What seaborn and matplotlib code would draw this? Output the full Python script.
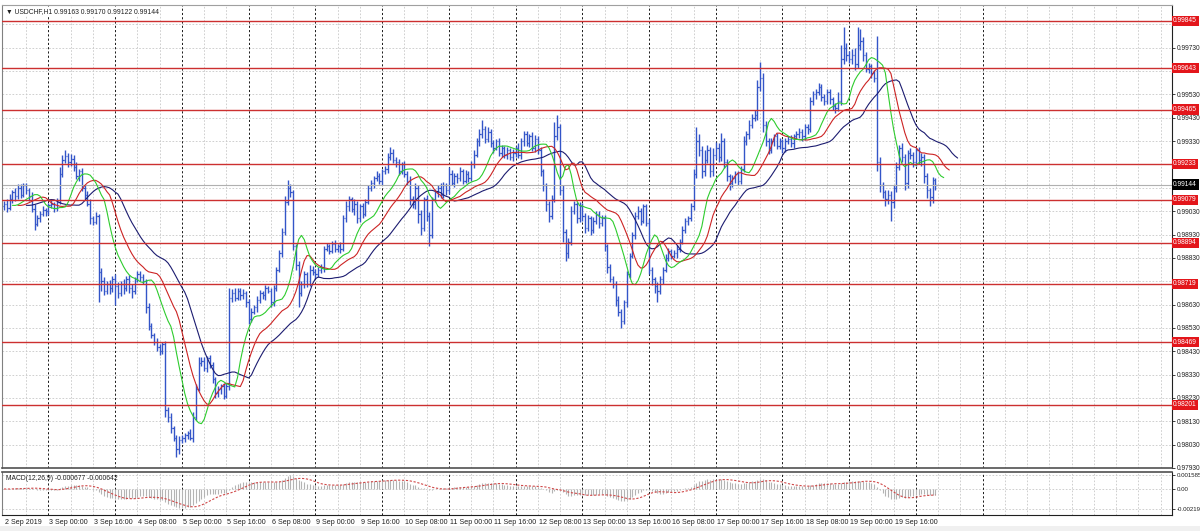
import numpy as np
import pandas as pd
import matplotlib
matplotlib.use("Agg")
import matplotlib.pyplot as plt
import matplotlib.transforms as mtransforms
from matplotlib.patches import Rectangle
import seaborn as sns

# ------------------------------------------------------------------ data
symbol_text = "\u25bc USDCHF,H1 0.99163 0.99170 0.99122 0.99144"
macd_text = "MACD(12,26,9) -0.000677 -0.000642"

price_base = 0.97          # closes are stored as (price - 0.97) * 1e5
price_unit = 1e-5
first_open = 2050

close_pts = [
    2060, 2045, 2080, 2110, 2095, 2130, 2100, 2140, 2120, 2095, 2040, 1975, 2000, 2020, 2035, 2030, 2055, 2060, 2045, 2070, 2190, 2250, 2265, 2240,
    2255, 2220, 2180, 2200, 2130, 2100, 2060, 2000, 1985, 2010, 1770, 1730, 1690, 1720, 1700, 1740, 1710, 1680, 1720, 1700, 1740, 1700, 1690, 1740,
    1760, 1750, 1730, 1620, 1540, 1500, 1470, 1450, 1430, 1460, 1180, 1150, 1100, 1060, 1010, 1050, 1060, 1070, 1080, 1060, 1150, 1270, 1380, 1390,
    1360, 1400, 1370, 1310, 1250, 1270, 1280, 1240, 1280, 1660, 1680, 1660, 1690, 1670, 1680, 1640, 1570, 1600, 1620, 1650, 1680, 1670, 1700, 1690,
    1640, 1700, 1780, 1850, 1940, 2070, 2130, 2110, 1880, 1800, 1680, 1720, 1760, 1720, 1780, 1770, 1760, 1780, 1790, 1870, 1880, 1860, 1890, 1870,
    1880, 1870, 2000, 2050, 2080, 2040, 2060, 2000, 2050, 2020, 2070, 2130, 2150, 2170, 2180, 2160, 2200, 2210, 2260, 2280, 2250, 2240, 2200, 2230,
    2190, 2160, 2080, 2060, 2130, 2020, 1960, 2080, 2010, 1930, 2080, 2110, 2130, 2100, 2140, 2120, 2190, 2150, 2180, 2170, 2200, 2160, 2190, 2170,
    2230, 2270, 2330, 2360, 2380, 2340, 2370, 2320, 2300, 2330, 2280, 2300, 2270, 2290, 2260, 2280, 2300, 2270, 2330, 2360, 2320, 2350, 2300, 2340,
    2290, 2200, 2140, 2060, 2010, 2080, 2350, 2390, 2120, 1940, 1850, 1900, 2030, 2060, 2000, 2050, 2010, 1960, 2000, 1950, 1990, 2020, 1980, 2000,
    1880, 1790, 1740, 1720, 1650, 1600, 1560, 1640, 1760, 1840, 1930, 2010, 2030, 1990, 2050, 1980, 1780, 1740, 1710, 1690, 1740, 1780, 1830, 1860,
    1840, 1850, 1870, 1900, 1950, 1990, 2000, 2050, 2190, 2330, 2290, 2200, 2250, 2290, 2200, 2270, 2300, 2260, 2330, 2240, 2180, 2150, 2170, 2190,
    2160, 2210, 2330, 2360, 2400, 2430, 2440, 2560, 2600, 2400, 2330, 2290, 2330, 2350, 2310, 2330, 2300, 2330, 2340, 2320, 2350, 2360, 2370, 2350,
    2390, 2380, 2500, 2530, 2540, 2560, 2520, 2500, 2540, 2510, 2480, 2470, 2500, 2680, 2730, 2700, 2680, 2700, 2660, 2740, 2760, 2700, 2640, 2650,
    2620, 2600, 2240, 2140, 2110, 2080, 2100, 2070, 2130, 2220, 2300, 2260, 2150, 2280, 2270, 2240, 2290, 2250, 2260, 2180, 2120, 2090, 2163, 2144,
]

wick_hi = [
    15, 20, 25, 10, 20, 15, 18, 12, 10, 8, 15, 20, 12, 10, 15, 10, 12, 18, 10, 15, 30, 20, 25, 15,
    20, 15, 20, 12, 15, 10, 15, 20, 10, 15, 10, 15, 20, 10, 15, 12, 20, 15, 10, 18, 12, 15, 20, 10,
    15, 12, 10, 10, 15, 12, 10, 15, 12, 10, 12, 10, 15, 10, 12, 15, 10, 12, 10, 15, 20, 20, 25, 15,
    15, 10, 12, 15, 10, 12, 10, 15, 12, 40, 15, 20, 10, 12, 15, 10, 12, 15, 10, 15, 12, 10, 15, 10,
    12, 15, 10, 15, 20, 25, 35, 15, 12, 10, 15, 12, 15, 10, 20, 15, 12, 10, 15, 12, 15, 10, 12, 15,
    10, 20, 15, 25, 15, 10, 20, 15, 10, 15, 12, 10, 15, 12, 20, 15, 10, 15, 20, 25, 15, 10, 15, 12,
    15, 10, 20, 15, 20, 10, 15, 12, 20, 15, 10, 15, 12, 20, 15, 10, 30, 15, 12, 15, 20, 12, 15, 10,
    15, 20, 15, 20, 40, 15, 20, 12, 15, 10, 15, 12, 10, 15, 12, 15, 10, 20, 15, 12, 15, 10, 20, 15,
    10, 15, 12, 10, 15, 20, 60, 50, 15, 20, 12, 15, 20, 15, 10, 20, 15, 12, 15, 10, 15, 12, 10, 15,
    12, 10, 15, 12, 10, 15, 12, 10, 15, 12, 10, 15, 20, 15, 12, 10, 15, 12, 10, 15, 12, 10, 15, 12,
    10, 12, 15, 10, 15, 12, 10, 15, 20, 60, 30, 20, 40, 25, 15, 30, 25, 20, 35, 15, 12, 10, 15, 12,
    10, 15, 20, 15, 20, 15, 25, 30, 70, 20, 15, 12, 15, 10, 15, 12, 10, 15, 12, 15, 10, 12, 15, 10,
    15, 12, 20, 15, 12, 20, 15, 10, 15, 12, 10, 15, 40, 60, 90, 20, 15, 25, 30, 80, 50, 15, 12, 15,
    10, 15, 180, 20, 15, 10, 20, 15, 12, 20, 15, 20, 15, 12, 20, 15, 12, 15, 20, 15, 12, 10, 15, 7,
]

wick_lo = [
    15, 20, 10, 15, 20, 12, 15, 10, 18, 20, 15, 25, 10, 15, 12, 20, 15, 10, 20, 15, 10, 15, 12, 20,
    15, 20, 12, 20, 15, 20, 10, 25, 15, 12, 130, 40, 20, 15, 25, 15, 80, 20, 15, 25, 10, 20, 30, 15,
    15, 20, 12, 25, 20, 15, 12, 20, 15, 10, 30, 25, 20, 15, 35, 20, 15, 20, 15, 10, 20, 15, 12, 15,
    15, 20, 12, 15, 20, 15, 25, 15, 10, 15, 20, 15, 12, 20, 15, 20, 25, 15, 10, 20, 12, 15, 20, 10,
    20, 15, 10, 12, 15, 10, 15, 20, 15, 20, 60, 15, 20, 15, 12, 15, 20, 10, 15, 20, 12, 15, 10, 15,
    15, 20, 10, 15, 20, 15, 25, 20, 15, 20, 12, 10, 15, 20, 10, 15, 20, 12, 15, 10, 15, 20, 15, 12,
    15, 20, 25, 15, 20, 40, 30, 15, 20, 50, 15, 10, 20, 15, 12, 20, 15, 10, 15, 20, 12, 15, 10, 15,
    12, 15, 10, 20, 15, 20, 12, 15, 20, 10, 15, 20, 12, 15, 10, 15, 20, 12, 15, 20, 10, 15, 12, 15,
    15, 20, 25, 30, 25, 15, 10, 15, 20, 40, 35, 20, 15, 12, 20, 15, 20, 25, 15, 20, 12, 15, 20, 15,
    20, 25, 15, 20, 25, 20, 30, 15, 20, 15, 12, 20, 15, 20, 12, 15, 20, 25, 30, 50, 15, 20, 12, 15,
    15, 12, 20, 15, 12, 15, 20, 12, 15, 20, 25, 30, 20, 15, 25, 20, 15, 20, 15, 25, 20, 30, 15, 20,
    20, 15, 12, 15, 20, 12, 15, 20, 15, 30, 20, 15, 12, 20, 15, 12, 20, 15, 12, 15, 20, 12, 15, 20,
    15, 20, 12, 15, 20, 12, 20, 15, 12, 20, 15, 20, 12, 15, 20, 25, 15, 20, 25, 15, 20, 25, 15, 20,
    20, 15, 40, 30, 25, 30, 20, 80, 25, 20, 15, 20, 30, 20, 15, 20, 15, 20, 25, 30, 35, 40, 25, 22,
]

level_prices = [0.99845, 0.99643, 0.99465, 0.99233, 0.99079, 0.98894, 0.98719, 0.98469, 0.98201]
last_price = 0.99144

price_ticks = [0.97930, 0.98030, 0.98130, 0.98230, 0.98330, 0.98430, 0.98530, 0.98630, 0.98730,
               0.98830, 0.98930, 0.99030, 0.99130, 0.99230, 0.99330, 0.99430, 0.99530, 0.99630,
               0.99730, 0.99830]

macd_ticks = [0.001585, 0.0, -0.00219]
macd_ticklabels = ["0.001585", "0.00", "-0.00219"]

date_labels = ["2 Sep 2019", "3 Sep 00:00", "3 Sep 16:00", "4 Sep 08:00", "5 Sep 00:00",
               "5 Sep 16:00", "6 Sep 08:00", "9 Sep 00:00", "9 Sep 16:00", "10 Sep 08:00",
               "11 Sep 00:00", "11 Sep 16:00", "12 Sep 08:00", "13 Sep 00:00", "13 Sep 16:00",
               "16 Sep 08:00", "17 Sep 00:00", "17 Sep 16:00", "18 Sep 08:00", "19 Sep 00:00",
               "19 Sep 16:00"]
label_step = 16          # bars between time labels
day_first_bar = 16       # bar index of 3 Sep 00:00
bars_per_day = 24
grid_step = 8

# Alligator (SMMA of median price): (period, shift, colour)
alligator = [(13, 8, "#1c1c70"), (8, 5, "#cc2424"), (5, 3, "#2ecc2e")]
macd_fast, macd_slow, macd_sig = 12, 26, 9

assert len(close_pts) == len(wick_hi) == len(wick_lo), (len(close_pts), len(wick_hi), len(wick_lo))

# ------------------------------------------------------------------ frame
n = len(close_pts)
idx = np.arange(n)
close = price_base + np.array(close_pts) * price_unit
opens = price_base + np.array([first_open] + close_pts[:-1]) * price_unit
high = np.maximum(opens, close) + np.array(wick_hi) * price_unit
low = np.minimum(opens, close) - np.array(wick_lo) * price_unit
df = pd.DataFrame({"bar": idx, "open": opens, "high": high, "low": low, "close": close})
median = (df["high"] + df["low"]) / 2
ma_frames = []
for period, shift, col in alligator:
    sm = median.ewm(alpha=1.0 / period, adjust=False).mean()
    ma_frames.append((pd.DataFrame({"bar": idx + shift, "val": sm.values}), col))
ema_f = df["close"].ewm(span=macd_fast, adjust=False).mean()
ema_s = df["close"].ewm(span=macd_slow, adjust=False).mean()
df["macd"] = ema_f - ema_s
df["signal"] = df["macd"].rolling(macd_sig, min_periods=1).mean()

# ------------------------------------------------------------------ style
sns.set_style("white")
plt.rcParams["font.family"] = ["Liberation Sans", "DejaVu Sans"]

W, H = 1200, 531
fig = plt.figure(figsize=(W / 100, H / 100), dpi=100)
fig.patch.set_facecolor("white")
ax = fig.add_axes([2 / W, 1 - 468 / H, 1170 / W, 463 / H])
ax2 = fig.add_axes([2 / W, 1 - 515 / H, 1170 / W, 43 / H])
fig.add_artist(Rectangle((0, 0), 1, 5 / H, transform=fig.transFigure,
                         facecolor="#f0f0f0", edgecolor="none"))

x_lo, x_hi = -0.72, 420.1
bar_color = "#3355c8"
fs = 5.1
fs_title = 4.85
fs_axis = 4.75

for a in (ax, ax2):
    a.set_xlim(x_lo, x_hi)
    a.set_facecolor("white")
    for b in range(grid_step, int(x_hi), grid_step):
        is_sep = (b - day_first_bar) % bars_per_day == 0 and day_first_bar <= b <= 352
        if is_sep:
            a.axvline(b, color="#1a1a1a", lw=0.7, ls=(0, (2.2, 2.2)), zorder=1)
        else:
            a.axvline(b, color="#c8c8c8", lw=0.6, ls=(0, (2, 2)), zorder=0)
    for s in a.spines.values():
        s.set_linewidth(0.8)
        s.set_color("#202020")

# ------------------------------------------------------------------ main panel
ax.set_ylim(0.97938, 0.99913)
for t in price_ticks:
    ax.axhline(t, color="#c8c8c8", lw=0.6, ls=(0, (2, 2)), zorder=0)

ax.vlines(df["bar"], df["low"], df["high"], color=bar_color, lw=1.0, zorder=2)
ax.hlines(df["open"], df["bar"] - 0.45, df["bar"], color=bar_color, lw=0.9, zorder=2)
ax.hlines(df["close"], df["bar"], df["bar"] + 0.45, color=bar_color, lw=0.9, zorder=2)

for mdf, col in ma_frames:
    sns.lineplot(data=mdf, x="bar", y="val", ax=ax, color=col, lw=0.8, zorder=3)

ax.axhline(last_price, color="#b0b0b0", lw=0.8, zorder=2)
for lv in level_prices:
    ax.axhline(lv, color="#cc3030", lw=1.0, zorder=4)

covered = level_prices + [last_price]
tick_labels = ["" if min(abs(t - c) for c in covered) < 0.0002 else f"{t:.5f}" for t in price_ticks]
ax.yaxis.tick_right()
ax.set_yticks(price_ticks)
ax.set_yticklabels(tick_labels)
ax.tick_params(axis="y", direction="out", length=2.5, width=0.6, pad=1,
               labelsize=fs_axis, labelcolor="#222222", color="#202020")
ax.set_xticks([])
ax.set_xlabel("")
ax.set_ylabel("")
ax.spines["left"].set_color("#808080")
ax.spines["top"].set_color("#a0a0a0")
ax.spines["bottom"].set_color("#505050")
ax.spines["bottom"].set_linewidth(1.2)

trans = mtransforms.blended_transform_factory(ax.transAxes, ax.transData)
for lv in level_prices:
    ax.text(1.001, lv, f"{lv:.5f}", transform=trans, ha="left", va="center",
            fontsize=fs_axis, color="white", zorder=10, clip_on=False,
            bbox=dict(boxstyle="square,pad=0.25", fc="#e3161b", ec="none"))
ax.text(1.001, last_price, f"{last_price:.5f}", transform=trans, ha="left", va="center",
        fontsize=fs_axis, color="white", zorder=10, clip_on=False,
        bbox=dict(boxstyle="square,pad=0.25", fc="#000000", ec="none"))

ax.text(4 / 1170, 1 - 3 / 463, symbol_text, transform=ax.transAxes, ha="left", va="top",
        fontsize=fs_title, color="#202020", zorder=10,
        bbox=dict(boxstyle="square,pad=0.1", fc="white", ec="none"))

# ------------------------------------------------------------------ MACD panel
ax2.set_ylim(-0.00286, 0.00187)
for t in macd_ticks:
    ax2.axhline(t, color="#c8c8c8", lw=0.6, ls=(0, (2, 2)), zorder=0)
ax2.vlines(df["bar"], 0, df["macd"], color="#b4b4b4", lw=0.8, zorder=2)
sns.lineplot(data=df, x="bar", y="signal", ax=ax2, color="#d04848", lw=0.8,
             linestyle=(0, (2, 1.5)), zorder=3)
ax2.yaxis.tick_right()
ax2.set_yticks(macd_ticks)
ax2.set_yticklabels(macd_ticklabels)
ax2.tick_params(axis="y", direction="out", length=2.5, width=0.6, pad=1,
                labelsize=4.4, labelcolor="#222222", color="#202020")
label_bars = [i * label_step for i in range(len(date_labels))]
ax2.set_xticks(label_bars)
ax2.set_xticklabels([""] * len(label_bars))
ax2.tick_params(axis="x", direction="out", length=3, width=0.6, color="#202020")
ax2.set_xlabel("")
ax2.set_ylabel("")
ax2.spines["left"].set_color("#808080")
ax2.spines["top"].set_color("#505050")
ax2.spines["top"].set_linewidth(1.2)

ax2.text(4 / 1170, 1 - 3 / 43, macd_text, transform=ax2.transAxes, ha="left", va="top",
         fontsize=fs_title, color="#202020", zorder=10)

tlab = mtransforms.blended_transform_factory(ax2.transData, fig.transFigure)
for b, lab in zip(label_bars, date_labels):
    ax2.text(b + 0.3, 1 - 522 / H, lab, transform=tlab, ha="left", va="center",
             fontsize=fs, color="#202020", clip_on=False)

fig.savefig("out.png", dpi=100)
